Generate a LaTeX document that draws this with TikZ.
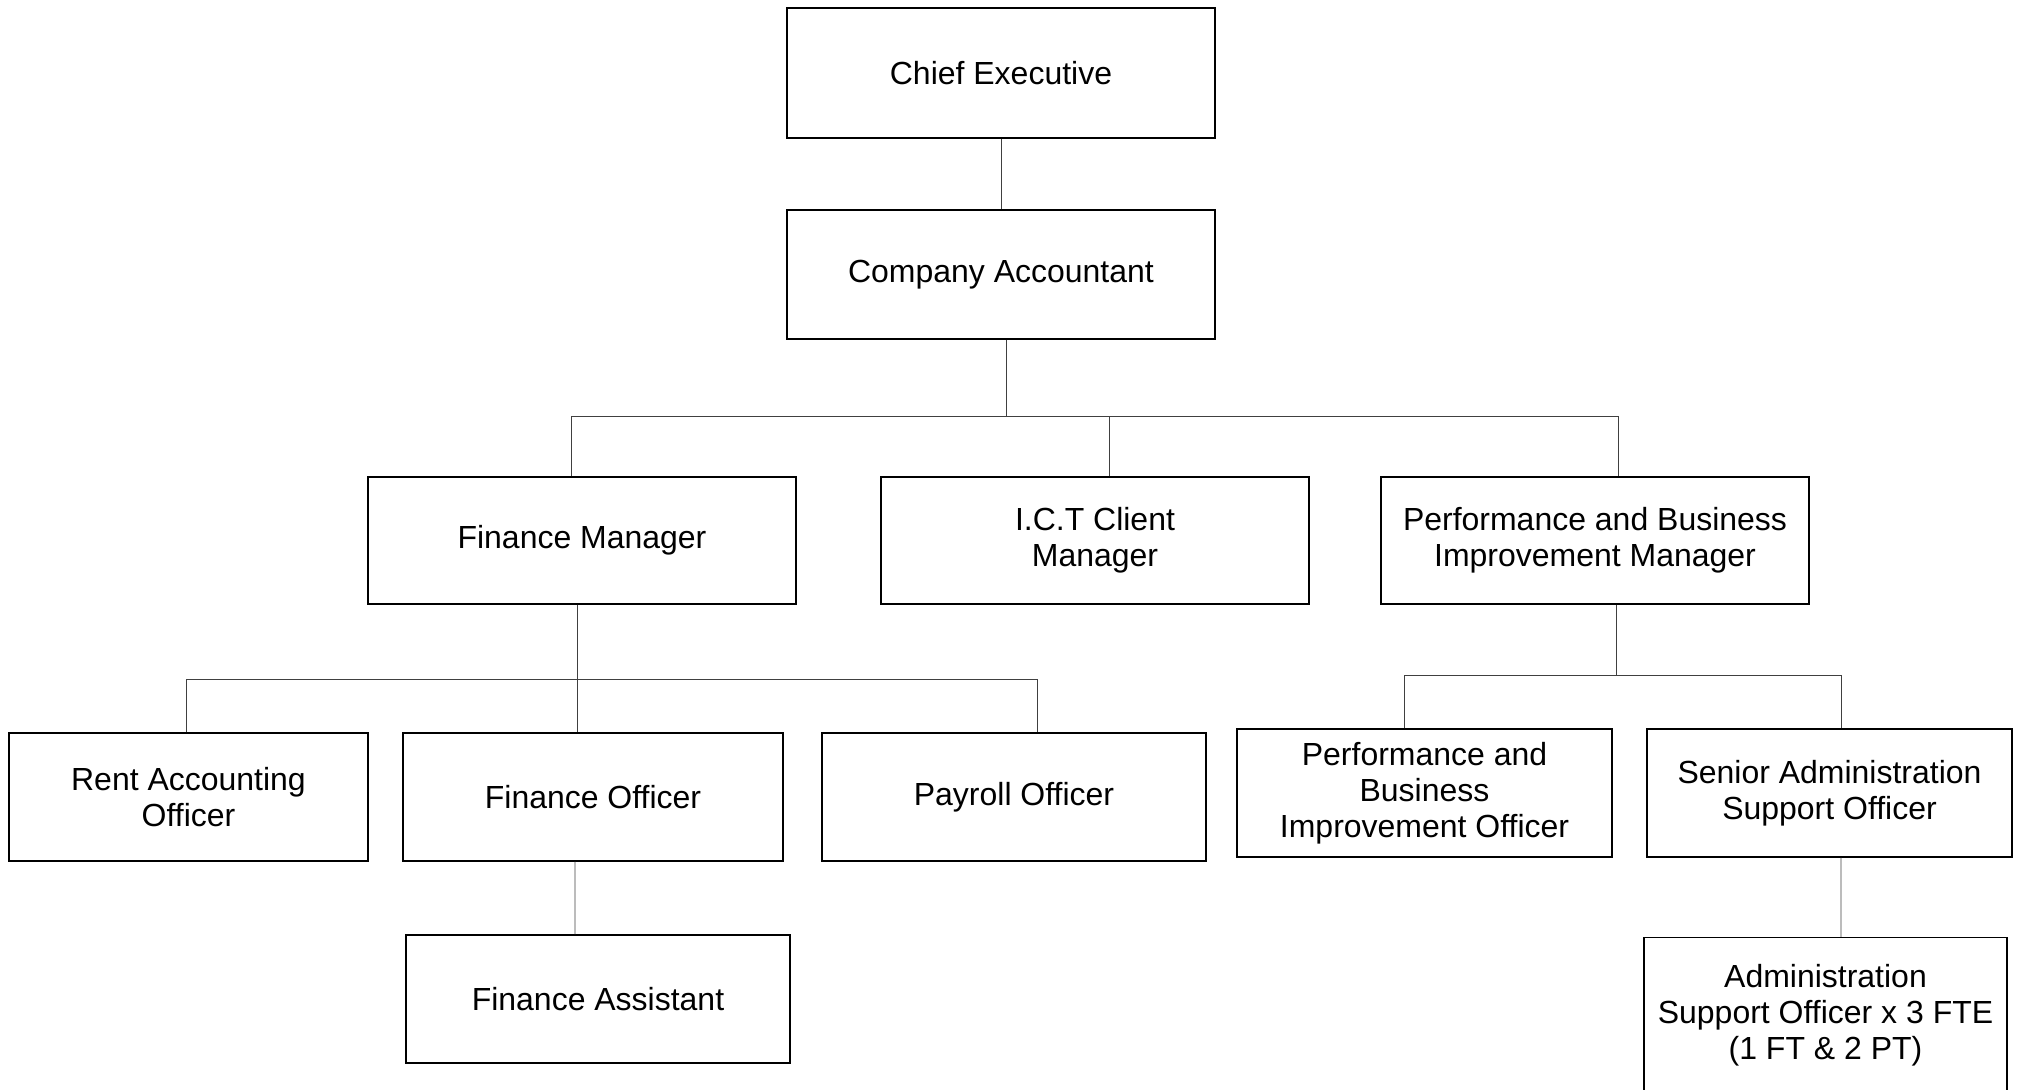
\documentclass[tikz,border=0pt]{standalone}
\usepackage{fontspec}
\setmainfont{Liberation Sans}
\usepackage{tikz}
\usetikzlibrary{calc}
\tikzset{boxRole/.style={draw, line width=0.7pt, align=center, minimum height=2.56cm, inner sep=2pt, font=\fontsize{18.2pt}{20.5pt}\selectfont}}
\tikzset{linkRole/.style={line width=0.45pt, draw=black!75}}

\begin{document}
\begin{tikzpicture}

\useasboundingbox (0, 0) rectangle (40.4, 21.8);

\node[boxRole, minimum width=8.56cm, minimum height=2.6cm] (ce) at (20.02, 20.34) {Chief Executive};
\node[boxRole, minimum width=8.56cm, minimum height=2.58cm] (ca) at (20.02, 16.31) {Company Accountant};

\node[boxRole, minimum width=8.56cm, minimum height=2.54cm] (fm) at (11.64, 10.99) {Finance Manager};
\node[boxRole, minimum width=8.56cm, minimum height=2.54cm] (ict) at (21.9, 10.99) {I.C.T Client\\Manager};
\node[boxRole, minimum width=8.56cm, minimum height=2.54cm] (pbm) at (31.9, 10.99) {Performance and Business\\Improvement Manager};

\node[boxRole, minimum width=7.18cm] (ra) at (3.77, 5.86) {Rent Accounting\\Officer};
\node[boxRole, minimum width=7.6cm] (fo) at (11.86, 5.86) {Finance Officer};
\node[boxRole, minimum width=7.68cm] (po) at (20.28, 5.86) {Payroll Officer};
\node[boxRole, minimum width=7.68cm] (fa) at (11.96, 1.82) {Finance Assistant};

\node[boxRole, minimum width=7.5cm] (pbio) at (28.49, 5.94) {Performance and\\Business\\Improvement Officer};
\node[boxRole, minimum width=7.3cm] (saso) at (36.59, 5.94) {Senior Administration\\Support Officer};
\node[boxRole, minimum width=7.26cm, minimum height=3.1cm] (aso) at (36.51, 1.5) {Administration\\Support Officer x 3 FTE\\(1 FT \& 2 PT)};

\coordinate (busTop) at (20.1, 13.48);
\coordinate (busFin) at (11.54, 8.22);
\coordinate (busPbm) at (32.32, 8.3);

\draw[linkRole] (ce) to (ca);
\draw[linkRole] ([xshift=0.1cm]ca.south) to ([xshift=0.1cm]ca.south |- busTop);
\draw[linkRole] ([xshift=-0.22cm]fm.north) |- (busTop) -| ([xshift=0.46cm]pbm.north);
\draw[linkRole] ([xshift=0.28cm]ict.north) to ([xshift=0.28cm]ict.north |- busTop);

\draw[linkRole] ([xshift=-0.1cm]fm.south) to ([xshift=-0.32cm]fo.north);
\draw[linkRole] ([xshift=-0.05cm]ra.north) |- (busFin) -| ([xshift=0.46cm]po.north);
\draw[linkRole] ([xshift=-0.36cm]fo.south) to ([xshift=-0.46cm]fa.north);

\draw[linkRole] ([xshift=0.42cm]pbm.south) to ([xshift=0.42cm]pbm.south |- busPbm);
\draw[linkRole] ([xshift=-0.41cm]pbio.north) |- (busPbm) -| ([xshift=0.23cm]saso.north);
\draw[linkRole] ([xshift=0.23cm]saso.south) to ([xshift=0.31cm]aso.north);

\end{tikzpicture}
\end{document}
